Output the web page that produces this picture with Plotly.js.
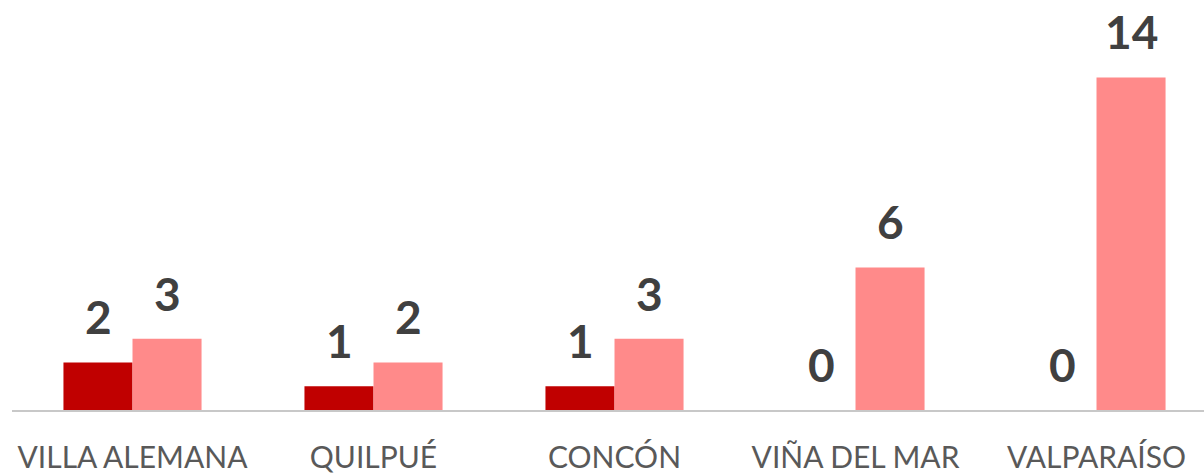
<!DOCTYPE html>
<html>
<head>
<meta charset="utf-8">
<script src="https://cdn.plot.ly/plotly-3.0.1.min.js"></script>
<style>html,body{margin:0;padding:0;background:#fff;}#chart{width:1204px;height:476px;}</style>
</head>
<body>
<div id="chart"></div>
<script>
const categories = ["VILLA ALEMANA", "QUILPUÉ", "CONCÓN", "VIÑA DEL MAR", "VALPARAÍSO"];
const seriesA = [2, 1, 1, 0, 0];
const seriesB = [3, 2, 3, 6, 14];

const colorA = "#C00000";
const colorB = "#FF8A8A";

const traces = [
  {type: "bar", x: categories, y: seriesA, marker: {color: colorA}, hoverinfo: "none", name: "A"},
  {type: "bar", x: categories, y: seriesB, marker: {color: colorB}, hoverinfo: "none", name: "B"}
];

const halfBar = 34.5;
const annotations = [];
[seriesA, seriesB].forEach((s, k) => {
  s.forEach((v, i) => {
    annotations.push({
      x: categories[i], y: v, xref: "x", yref: "y",
      text: String(v), showarrow: false,
      xshift: k === 0 ? -halfBar : halfBar,
      yanchor: "bottom", yshift: 16,
      font: {family: "Lato, 'Open Sans', sans-serif", size: 46, color: "#404040", weight: "bold"}
    });
  });
});

const layout = {
  width: 1204, height: 476,
  margin: {l: 12, r: 0, t: 0, b: 66},
  paper_bgcolor: "#fff", plot_bgcolor: "#fff",
  showlegend: false,
  barmode: "group", bargap: 0.427, bargroupgap: 0,
  xaxis: {
    range: [-0.5, 4.446], fixedrange: true,
    showline: true, linecolor: "#C8C8C8", linewidth: 2,
    ticks: "", showgrid: false, zeroline: false,
    tickfont: {family: "Lato, 'Open Sans', sans-serif", size: 30, color: "#595959"},
    ticklabelstandoff: 20
  },
  yaxis: {
    range: [0, 17.26], visible: false, showgrid: false, zeroline: false
  },
  annotations: annotations
};

Plotly.newPlot("chart", traces, layout, {staticPlot: true, displayModeBar: false});
</script>
</body>
</html>
